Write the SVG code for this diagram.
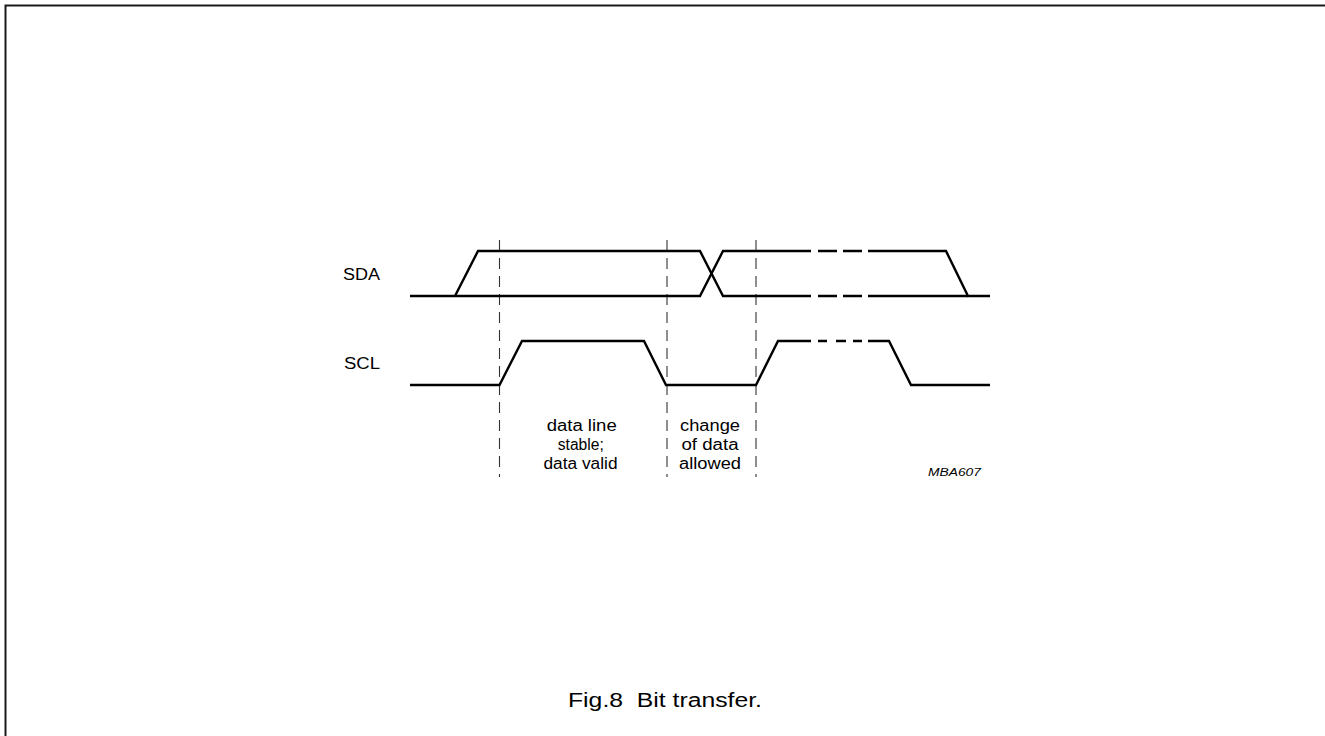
<svg xmlns="http://www.w3.org/2000/svg" width="1325" height="736" viewBox="0 0 1325 736">
<style>
.frame{fill:none;stroke:#1a1a1a;stroke-width:2}
.sig{fill:none;stroke:#000;stroke-width:2.4;stroke-linejoin:miter;stroke-linecap:butt}
.mark{fill:none;stroke:#333;stroke-width:1.1;stroke-dasharray:11,7}
.lbl{font-family:"Liberation Sans",Arial,sans-serif;font-size:16px;fill:#000}
.txt{font-family:"Liberation Sans",Arial,sans-serif;font-size:16px;fill:#000;text-anchor:middle}
.code{font-family:"Liberation Sans",Arial,sans-serif;font-size:11px;font-style:italic;fill:#000}
.cap{font-family:"Liberation Sans",Arial,sans-serif;font-size:20px;fill:#000}
</style>
<rect width="1325" height="736" fill="#fff"/>
<g id="frame">
<path class="frame" d="M5.5,740 V5.5 H1330"/>
</g>
<g id="markers">
<line class="mark" x1="499.5" y1="240" x2="499.5" y2="477"/>
<line class="mark" x1="667" y1="240" x2="667" y2="477"/>
<line class="mark" x1="756" y1="240" x2="756" y2="477"/>
</g>
<g id="sda">
<text class="lbl" x="343" y="280" textLength="37" lengthAdjust="spacingAndGlyphs">SDA</text>
<path class="sig" d="M410,296 H700 L723,251 H811"/>
<path class="sig" d="M455,296 L478,251 H700 L723,296 H811"/>
<path class="sig" d="M818,251 H837 M843,251 H862 M818,296 H837 M843,296 H862"/>
<path class="sig" d="M868,251 H946 L968,296 H990"/>
<path class="sig" d="M868,296 H968"/>
</g>
<g id="scl">
<text class="lbl" x="344" y="368.5" textLength="36" lengthAdjust="spacingAndGlyphs">SCL</text>
<path class="sig" d="M410,385 H499.5 L522,341 H644 L666,385 H756 L778,341 H811"/>
<path class="sig" d="M818,341 H827 M836,341 H846 M853,341 H862"/>
<path class="sig" d="M868,341 H889 L911,385 H990"/>
</g>
<g id="label-stable">
<text class="txt" x="581.7" y="431" textLength="70" lengthAdjust="spacingAndGlyphs">data line</text>
<text class="txt" x="580.8" y="449.5" textLength="46" lengthAdjust="spacingAndGlyphs">stable;</text>
<text class="txt" x="580.5" y="468.5" textLength="74" lengthAdjust="spacingAndGlyphs">data valid</text>
</g>
<g id="label-change">
<text class="txt" x="710" y="431" textLength="60" lengthAdjust="spacingAndGlyphs">change</text>
<text class="txt" x="710" y="449.5" textLength="57" lengthAdjust="spacingAndGlyphs">of data</text>
<text class="txt" x="710" y="468.5" textLength="62" lengthAdjust="spacingAndGlyphs">allowed</text>
</g>
<g id="code">
<text class="code" x="928" y="476" textLength="53" lengthAdjust="spacingAndGlyphs">MBA607</text>
</g>
<g id="caption">
<text class="cap" x="568" y="707" textLength="194" lengthAdjust="spacingAndGlyphs" xml:space="preserve">Fig.8  Bit transfer.</text>
</g>
</svg>
